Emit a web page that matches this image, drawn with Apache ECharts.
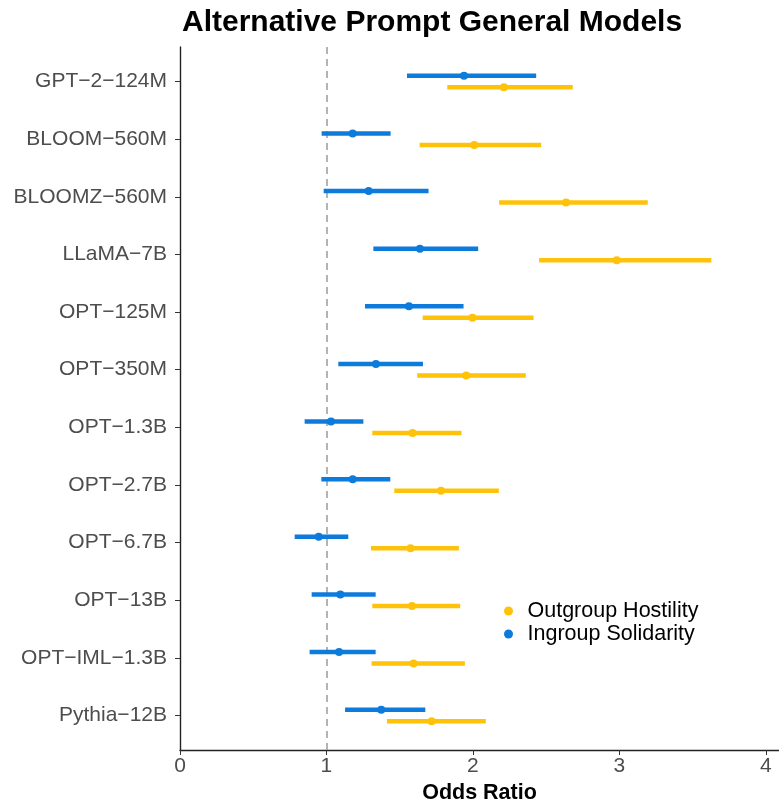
<!DOCTYPE html>
<html>
<head>
<meta charset="utf-8">
<script src="https://cdn.jsdelivr.net/npm/echarts@6/dist/echarts.min.js"></script>
<style>html,body{margin:0;padding:0;background:#fff}#c{width:779px;height:805px}</style>
</head>
<body>
<div id="c"></div>
<script>
const models = ["GPT\u22122\u2212124M","BLOOM\u2212560M","BLOOMZ\u2212560M","LLaMA\u22127B","OPT\u2212125M","OPT\u2212350M","OPT\u22121.3B","OPT\u22122.7B","OPT\u22126.7B","OPT\u221213B","OPT\u2212IML\u22121.3B","Pythia\u221212B"];
const outLow  = [1.825,1.636,2.179,2.452,1.657,1.620,1.313,1.463,1.304,1.313,1.308,1.413];
const outEst  = [2.211,2.009,2.636,2.982,1.997,1.954,1.588,1.782,1.574,1.584,1.595,1.718];
const outHigh = [2.682,2.466,3.194,3.628,2.414,2.361,1.922,2.177,1.904,1.913,1.945,2.088];
const inLow   = [1.550,0.967,0.981,1.320,1.263,1.081,0.851,0.965,0.783,0.899,0.885,1.127];
const inEst   = [1.939,1.179,1.288,1.638,1.563,1.338,1.031,1.179,0.947,1.095,1.086,1.374];
const inHigh  = [2.432,1.438,1.697,2.036,1.936,1.659,1.252,1.436,1.149,1.336,1.336,1.675];
const xTicks = [0,1,2,3,4];

const chart = echarts.init(document.getElementById('c'), null, {renderer:'canvas'});
function build(lo, est, hi){ return models.map((m,i)=>[i+1, lo[i], est[i], hi[i]]); }
function makeRender(color, off){
  return function(params, api){
    const y = api.value(0) + off;
    const p1 = api.coord([api.value(1), y]);
    const p2 = api.coord([api.value(3), y]);
    const pc = api.coord([api.value(2), y]);
    return {type:'group', children:[
      {type:'line', shape:{x1:p1[0],y1:p1[1],x2:p2[0],y2:p2[1]}, style:{stroke:color, lineWidth:4.5}},
      {type:'circle', shape:{cx:pc[0], cy:pc[1], r:4}, style:{fill:color}}
    ]};
  };
}
const YEL = '#FFC20A', BLU = '#0C7BDC';
const option = {
  animation:false,
  backgroundColor:'#fff',
  title:{text:'Alternative Prompt General Models', left:177, top:3,
    textStyle:{fontFamily:'Liberation Sans', fontWeight:'bold', fontSize:30, color:'#000'}},
  legend:{orient:'vertical', left:499, top:595, itemGap:1, icon:'circle', itemWidth:28, itemHeight:9,
    textStyle:{fontFamily:'Liberation Sans', fontSize:21.5, color:'#000'},
    data:['Outgroup Hostility','Ingroup Solidarity']},
  grid:{left:180, right:0, top:47, bottom:55, containLabel:false, outerBoundsMode:'none'},
  xAxis:{type:'value', min:0, max:4.09, name:'Odds Ratio', nameLocation:'middle', nameGap:31,
    nameTextStyle:{fontFamily:'Liberation Sans', fontWeight:'bold', fontSize:21.5, color:'#000'},
    axisLine:{show:true, lineStyle:{color:'#222', width:1.4}},
    axisTick:{show:true, length:5, customValues:xTicks, lineStyle:{color:'#333'}},
    axisLabel:{customValues:xTicks, fontFamily:'Liberation Sans', fontSize:21, color:'#4d4d4d', margin:6},
    splitLine:{show:false}},
  yAxis:{type:'value', min:0.4, max:12.6, inverse:true,
    axisLine:{show:true, lineStyle:{color:'#222', width:1.4}},
    axisTick:{show:true, length:5, customValues:models.map((m,i)=>i+1), lineStyle:{color:'#333'}},
    axisLabel:{customValues:models.map((m,i)=>i+1), formatter:v=>models[Math.round(v)-1]||'',
      fontFamily:'Liberation Sans', fontSize:21, color:'#4d4d4d', margin:13},
    splitLine:{show:false}},
  series:[
    {name:'Outgroup Hostility', type:'custom', color:YEL, itemStyle:{color:YEL},
     renderItem:makeRender(YEL, 0.1), encode:{x:[1,2,3], y:0}, data:build(outLow,outEst,outHigh), z:3},
    {name:'Ingroup Solidarity', type:'custom', color:BLU, itemStyle:{color:BLU},
     renderItem:makeRender(BLU, -0.1), encode:{x:[1,2,3], y:0}, data:build(inLow,inEst,inHigh), z:3,
     markLine:{silent:true, symbol:'none', label:{show:false}, z:1,
       lineStyle:{color:'#9a9a9a', type:[7,5], width:1.5}, data:[{xAxis:1}]}}
  ]
};
chart.setOption(option);
</script>
</body>
</html>
